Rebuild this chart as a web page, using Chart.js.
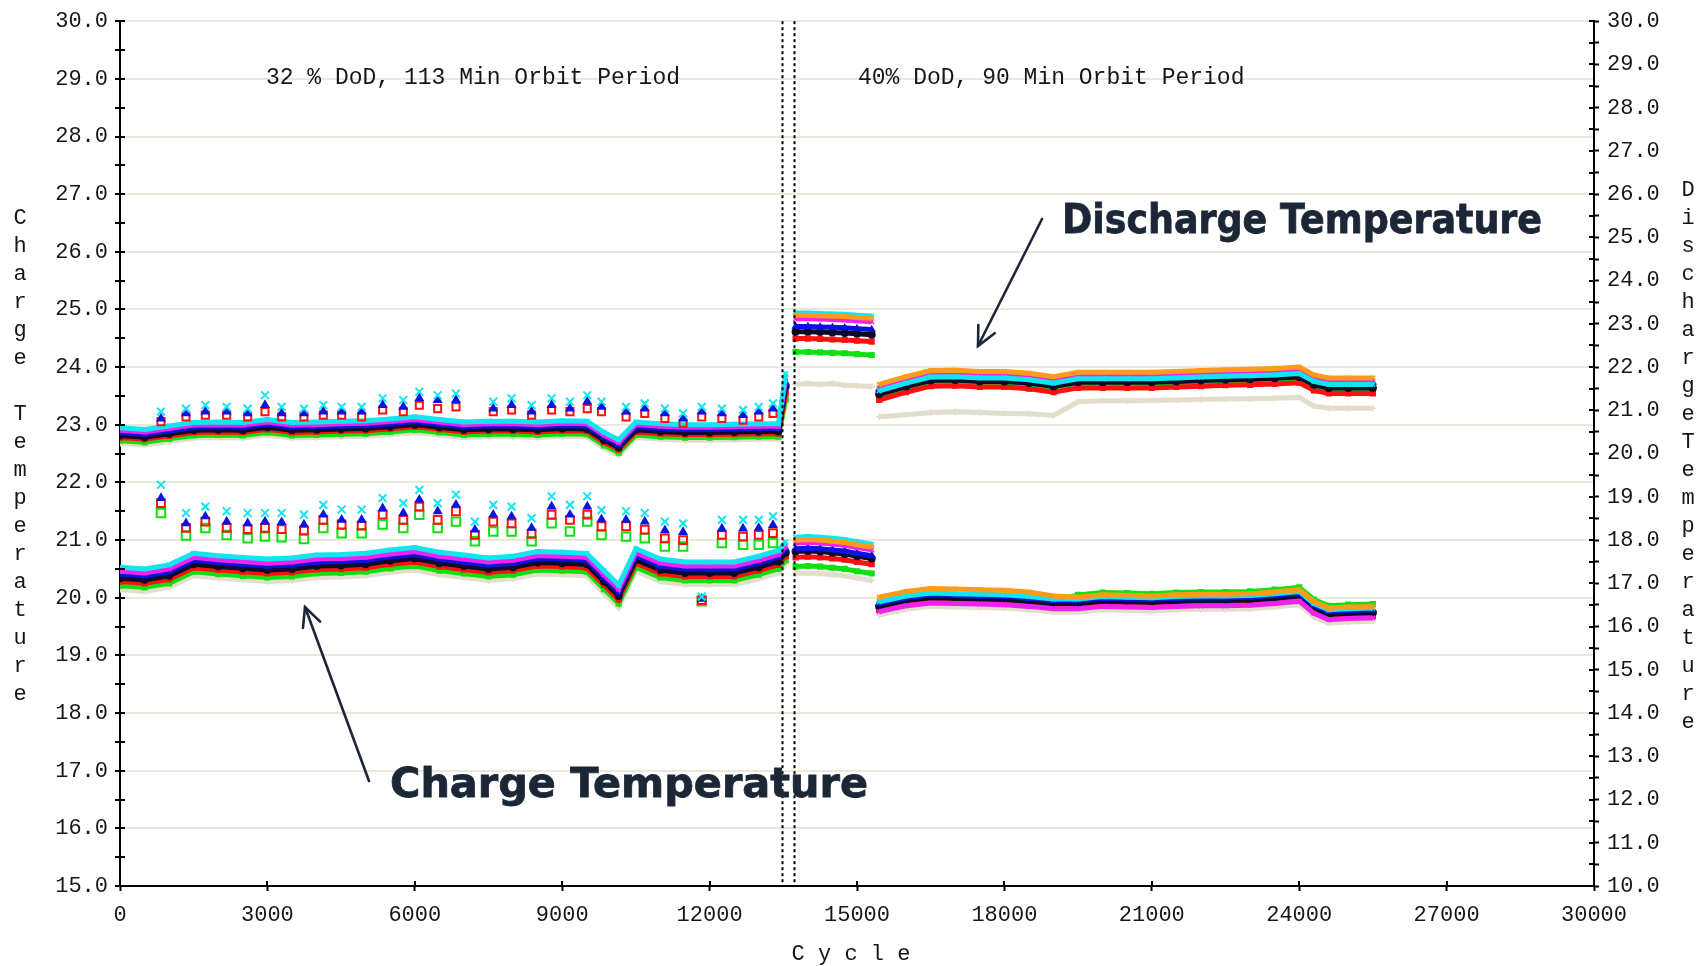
<!DOCTYPE html>
<html>
<head>
<meta charset="utf-8">
<script src="https://cdn.jsdelivr.net/npm/chart.js@4.4.1/dist/chart.umd.min.js"></script>
<style>
  html, body { margin: 0; padding: 0; background: #ffffff; }
  #wrap { width: 1706px; height: 966px; }
</style>
</head>
<body>
<div id="wrap"><canvas id="c" width="1706" height="966"></canvas></div>
<script>
// ---------- DATA ----------
// Cycle positions of the band samples (null values break the line between phases)
const cycles = [0,500,1000,1500,2000,2500,3000,3500,4000,4500,5000,5500,6000,6500,7000,7500,8000,8500,9000,9500,9850,10150,10500,11000,11500,12000,12500,13000,13400,13550,
  13650,
  13750,14000,14250,14500,14750,15000,15300,
  15370,
  15450,16000,16500,17000,17500,18000,18500,19000,19500,20000,20500,21000,21500,22000,22500,23000,23500,24000,24300,24600,25000,25500];

// Charge temperature (left axis, deg C), one array per cell colour
const chargeCyan = [20.53,20.50,20.57,20.77,20.73,20.70,20.67,20.69,20.74,20.75,20.77,20.83,20.87,20.79,20.74,20.69,20.72,20.80,20.79,20.77,20.47,20.22,20.85,20.67,20.62,20.62,20.62,20.72,20.82,20.97,
  null, 21.05,21.06,21.05,21.03,21.01,20.97,20.93, null,
  19.93,20.03,20.08,20.07,20.06,20.05,20.02,19.98,19.98,20.02,20.01,20.00,20.02,20.03,20.03,20.04,20.07,20.11,19.90,19.79,19.81,19.82];
const chargeMagenta = [20.46,20.43,20.50,20.70,20.66,20.63,20.60,20.62,20.67,20.68,20.70,20.76,20.80,20.72,20.67,20.62,20.65,20.73,20.72,20.70,20.40,20.15,20.78,20.60,20.55,20.55,20.55,20.65,20.75,20.90,
  null, 20.95,20.96,20.95,20.93,20.91,20.87,20.83, null,
  19.76,19.86,19.91,19.90,19.89,19.88,19.85,19.81,19.81,19.85,19.84,19.83,19.85,19.86,19.86,19.87,19.90,19.94,19.73,19.62,19.64,19.65];
const chargeBlue = [20.41,20.38,20.45,20.65,20.61,20.58,20.55,20.57,20.62,20.63,20.65,20.71,20.75,20.67,20.62,20.57,20.60,20.68,20.67,20.65,20.35,20.10,20.73,20.55,20.50,20.50,20.50,20.60,20.70,20.85,
  null, 20.85,20.86,20.85,20.83,20.81,20.77,20.73, null,
  19.90,20.00,20.05,20.04,20.03,20.02,19.99,19.95,19.95,19.99,19.98,19.97,19.99,20.00,20.00,20.01,20.04,20.08,19.87,19.76,19.78,19.79];
const chargeBlack = [20.34,20.31,20.38,20.58,20.54,20.51,20.48,20.50,20.55,20.56,20.58,20.64,20.68,20.60,20.55,20.50,20.53,20.61,20.60,20.58,20.28,20.03,20.66,20.48,20.43,20.43,20.43,20.53,20.63,20.78,
  null, 20.80,20.81,20.80,20.78,20.76,20.72,20.68, null,
  19.85,19.95,20.00,19.99,19.98,19.97,19.94,19.90,19.90,19.94,19.93,19.92,19.94,19.95,19.95,19.96,19.99,20.03,19.82,19.71,19.73,19.74];
const chargeRed = [20.28,20.25,20.32,20.52,20.48,20.45,20.42,20.44,20.49,20.50,20.52,20.58,20.62,20.54,20.49,20.44,20.47,20.55,20.54,20.52,20.22,19.97,20.60,20.42,20.37,20.37,20.37,20.47,20.57,20.72,
  null, 20.70,20.71,20.70,20.68,20.66,20.62,20.58, null,
  19.79,19.89,19.94,19.93,19.92,19.91,19.88,19.84,19.84,19.88,19.87,19.86,19.88,19.89,19.89,19.90,19.93,19.97,19.76,19.65,19.67,19.68];
const chargeGreen = [20.21,20.18,20.25,20.45,20.41,20.38,20.35,20.37,20.42,20.43,20.45,20.51,20.55,20.47,20.42,20.37,20.40,20.48,20.47,20.45,20.15,19.90,20.53,20.35,20.30,20.30,20.30,20.40,20.50,20.65,
  null, 20.54,20.55,20.54,20.52,20.50,20.46,20.42, null,
  19.88,19.98,20.03,20.02,20.01,20.00,19.97,19.95,20.05,20.09,20.08,20.07,20.09,20.10,20.10,20.11,20.14,20.18,19.97,19.86,19.88,19.89];
const chargeOrange = [null,null,null,null,null,null,null,null,null,null,null,null,null,null,null,null,null,null,null,null,null,null,null,null,null,null,null,null,null,null,
  null, 21.00,21.01,21.00,20.98,20.96,20.92,20.88, null,
  20.01,20.11,20.16,20.15,20.14,20.13,20.10,20.03,20.01,20.05,20.04,20.03,20.05,20.06,20.06,20.07,20.10,20.14,19.93,19.82,19.84,19.85];
const chargeBeige = [20.14,20.11,20.18,20.38,20.34,20.31,20.28,20.30,20.35,20.36,20.38,20.44,20.48,20.40,20.35,20.30,20.33,20.41,20.40,20.38,20.08,19.83,20.46,20.28,20.23,20.23,20.23,20.33,20.43,20.58,
  null, 20.42,20.43,20.42,20.40,20.38,20.34,20.30, null,
  19.70,19.80,19.85,19.84,19.83,19.82,19.79,19.75,19.75,19.79,19.78,19.77,19.79,19.80,19.80,19.81,19.84,19.88,19.67,19.56,19.58,19.59];

// Discharge temperature (right axis, deg C)
const dischargeCyan = [20.60,20.56,20.64,20.72,20.73,20.72,20.79,20.72,20.73,20.75,20.76,20.80,20.85,20.79,20.73,20.75,20.75,20.73,20.76,20.75,20.49,20.32,20.73,20.69,20.67,20.67,20.68,20.69,20.69,21.85,
  null, 23.25,23.25,23.24,23.23,23.22,23.20,23.18, null,
  21.45,21.63,21.77,21.78,21.75,21.75,21.71,21.63,21.73,21.73,21.73,21.73,21.75,21.77,21.79,21.80,21.82,21.85,21.67,21.60,21.60,21.60];
const dischargeMagenta = [20.54,20.50,20.58,20.66,20.67,20.66,20.73,20.66,20.67,20.69,20.70,20.74,20.79,20.73,20.67,20.69,20.69,20.67,20.70,20.69,20.43,20.26,20.67,20.63,20.61,20.61,20.62,20.63,20.63,21.75,
  null, 23.12,23.12,23.11,23.10,23.09,23.07,23.05, null,
  21.52,21.70,21.84,21.85,21.82,21.82,21.78,21.70,21.80,21.80,21.80,21.80,21.82,21.84,21.86,21.87,21.89,21.92,21.74,21.67,21.67,21.67];
const dischargeBlue = [20.49,20.45,20.53,20.61,20.62,20.61,20.68,20.61,20.62,20.64,20.65,20.69,20.74,20.68,20.62,20.64,20.64,20.62,20.65,20.64,20.38,20.21,20.62,20.58,20.56,20.56,20.57,20.58,20.58,21.65,
  null, 22.94,22.94,22.93,22.92,22.91,22.89,22.87, null,
  21.50,21.68,21.82,21.83,21.80,21.80,21.76,21.68,21.78,21.78,21.78,21.78,21.80,21.82,21.84,21.85,21.87,21.90,21.72,21.65,21.65,21.65];
const dischargeBlack = [20.42,20.38,20.46,20.54,20.55,20.54,20.61,20.54,20.55,20.57,20.58,20.62,20.67,20.61,20.55,20.57,20.57,20.55,20.58,20.57,20.31,20.14,20.55,20.51,20.49,20.49,20.50,20.51,20.51,21.55,
  null, 22.82,22.82,22.81,22.80,22.79,22.77,22.75, null,
  21.37,21.55,21.69,21.70,21.67,21.67,21.63,21.55,21.65,21.65,21.65,21.65,21.67,21.69,21.71,21.72,21.74,21.77,21.59,21.52,21.52,21.52];
const dischargeRed = [20.37,20.33,20.41,20.49,20.50,20.49,20.56,20.49,20.50,20.52,20.53,20.57,20.62,20.56,20.50,20.52,20.52,20.50,20.53,20.52,20.26,20.09,20.50,20.46,20.44,20.44,20.45,20.46,20.46,21.40,
  null, 22.66,22.66,22.65,22.64,22.63,22.61,22.59, null,
  21.24,21.42,21.56,21.57,21.54,21.54,21.50,21.42,21.52,21.52,21.52,21.52,21.54,21.56,21.58,21.59,21.61,21.64,21.46,21.39,21.39,21.39];
const dischargeGreen = [20.30,20.26,20.34,20.42,20.43,20.42,20.49,20.42,20.43,20.45,20.46,20.50,20.55,20.49,20.43,20.45,20.45,20.43,20.46,20.45,20.19,20.02,20.43,20.39,20.37,20.37,20.38,20.39,20.39,21.25,
  null, 22.35,22.35,22.34,22.33,22.32,22.30,22.28, null,
  21.34,21.52,21.66,21.67,21.64,21.64,21.60,21.52,21.62,21.62,21.62,21.62,21.64,21.66,21.68,21.69,21.71,21.74,21.56,21.49,21.49,21.49];
const dischargeOrange = [null,null,null,null,null,null,null,null,null,null,null,null,null,null,null,null,null,null,null,null,null,null,null,null,null,null,null,null,null,null,
  null, 23.20,23.20,23.19,23.18,23.17,23.15,23.13, null,
  21.60,21.78,21.92,21.93,21.90,21.90,21.86,21.78,21.88,21.88,21.88,21.88,21.90,21.92,21.94,21.95,21.97,22.00,21.82,21.75,21.75,21.75];
const dischargeBeige = [20.24,20.20,20.28,20.36,20.37,20.36,20.43,20.36,20.37,20.39,20.40,20.44,20.49,20.43,20.37,20.39,20.39,20.37,20.40,20.39,20.13,19.96,20.37,20.33,20.31,20.31,20.32,20.33,20.33,21.55,
  null, 21.60,21.62,21.60,21.62,21.58,21.57,21.55, null,
  20.85,20.90,20.95,20.97,20.95,20.93,20.92,20.88,21.20,21.22,21.22,21.23,21.24,21.25,21.26,21.27,21.28,21.30,21.10,21.05,21.05,21.05];

// Periodic capacity-check excursions ("spikes")
const spikeCycles = [834,1343,1737,2171,2598,2951,3290,3744,4138,4511,4918,5346,5766,6092,6465,6838,7224,7597,7970,8377,8785,9158,9510,9800,10300,10680,11090,11460,11840,12250,12680,13000,13290];
const chargeSpikeCyan  = [21.96,21.47,21.58,21.50,21.47,21.47,21.47,21.44,21.61,21.53,21.53,21.73,21.64,21.87,21.64,21.79,21.32,21.61,21.58,21.38,21.76,21.61,21.76,21.52,21.50,21.47,21.32,21.29,20.02,21.35,21.35,21.35,21.41];
const chargeSpikeBlue  = [21.73,21.29,21.41,21.32,21.29,21.32,21.31,21.27,21.44,21.35,21.35,21.55,21.47,21.70,21.50,21.61,21.18,21.44,21.41,21.21,21.58,21.44,21.58,21.36,21.35,21.32,21.17,21.14,19.98,21.20,21.20,21.21,21.26];
const chargeSpikeRed   = [21.64,21.21,21.32,21.21,21.19,21.21,21.19,21.17,21.35,21.27,21.25,21.44,21.35,21.58,21.35,21.50,21.09,21.32,21.29,21.11,21.44,21.35,21.44,21.24,21.24,21.18,21.03,21.00,19.96,21.09,21.06,21.09,21.12];
const chargeSpikeGreen = [21.47,21.08,21.21,21.09,21.03,21.06,21.05,21.02,21.21,21.12,21.12,21.27,21.21,21.44,21.21,21.32,20.98,21.15,21.15,20.98,21.29,21.15,21.32,21.09,21.06,21.03,20.89,20.89,19.94,20.95,20.92,20.92,20.95];
const dischargeSpikeCyan = [20.97,21.04,21.12,21.08,21.04,21.35,21.08,21.04,21.12,21.08,21.08,21.28,21.24,21.43,21.35,21.39,null,21.20,21.28,21.12,21.28,21.20,21.35,21.20,21.08,21.16,21.04,20.93,21.08,21.04,21.01,21.08,21.16];
const dischargeSpikeBlue = [20.81,20.93,20.97,20.97,20.93,21.12,20.93,20.93,20.97,20.97,20.97,21.12,21.08,21.28,21.24,21.24,null,21.04,21.12,20.97,21.12,21.04,21.20,21.08,20.97,21.04,20.93,20.81,20.97,20.93,20.89,20.97,21.04];
const dischargeSpikeRed  = [20.74,20.85,20.89,20.89,20.85,20.97,20.85,20.85,20.89,20.89,20.85,21.01,20.97,21.12,21.04,21.08,null,20.97,21.01,20.89,21.01,20.97,21.04,20.97,20.85,20.93,20.81,20.70,20.85,20.81,20.77,20.85,20.93];

// Phase change (dotted lines) and axis ranges
const phaseBoundaries = [13470, 13715];
const cycleRange = [0, 30000, 3000];
const chargeRange = [15, 30, 0.5];
const dischargeRange = [10, 30, 0.5];
const phaseLabels = ['32 % DoD, 113 Min Orbit Period', '40% DoD, 90 Min Orbit Period'];
const leftTitle = 'Charge Temperature';
const rightTitle = 'DischargeTemperature';
const xTitle = 'C y c l e';

// ---------- CHART ----------
const COL = {
  cyan: '#12e4f0', magenta: '#ee22ee', blue: '#0a14e0', black: '#0c0c2a',
  red: '#ff1010', green: '#10e010', orange: '#ff9a1a', beige: '#e3ddcc'
};
const pts = (xs, ys) => xs.map((x, i) => ({ x: x, y: ys[i] }));

function band(label, ys, axis, color, style) {
  return {
    label, data: pts(cycles, ys), yAxisID: axis, showLine: true, spanGaps: false,
    borderColor: color, backgroundColor: color, borderWidth: 5,
    pointStyle: style, pointRadius: 3.2, pointBorderWidth: 1.6, pointBorderColor: color,
    pointBackgroundColor: color
  };
}
function spikes(label, ys, axis, color, style, r, filled) {
  return {
    label, data: pts(spikeCycles, ys), yAxisID: axis, showLine: false,
    borderColor: color, backgroundColor: filled ? color : 'rgba(0,0,0,0)',
    pointStyle: style, pointRadius: r, pointBorderWidth: 2,
    pointBorderColor: color, pointBackgroundColor: filled ? color : 'rgba(0,0,0,0)'
  };
}

const datasets = [
  spikes('Charge spike cyan', chargeSpikeCyan, 'y', COL.cyan, 'crossRot', 5.5, false),
  spikes('Charge spike blue', chargeSpikeBlue, 'y', COL.blue, 'triangle', 3.8, true),
  spikes('Charge spike red', chargeSpikeRed, 'y', COL.red, 'rect', 5.5, false),
  spikes('Charge spike green', chargeSpikeGreen, 'y', COL.green, 'rect', 6, false),
  spikes('Discharge spike cyan', dischargeSpikeCyan, 'y2', COL.cyan, 'crossRot', 5.5, false),
  spikes('Discharge spike blue', dischargeSpikeBlue, 'y2', COL.blue, 'triangle', 3.8, true),
  spikes('Discharge spike red', dischargeSpikeRed, 'y2', COL.red, 'rect', 5, false),

  band('Charge orange', chargeOrange, 'y', COL.orange, 'crossRot'),
  band('Charge cyan', chargeCyan, 'y', COL.cyan, 'crossRot'),
  band('Charge magenta', chargeMagenta, 'y', COL.magenta, 'crossRot'),
  band('Charge blue', chargeBlue, 'y', COL.blue, 'triangle'),
  band('Charge black', chargeBlack, 'y', COL.black, 'circle'),
  band('Charge red', chargeRed, 'y', COL.red, 'rect'),
  band('Charge green', chargeGreen, 'y', COL.green, 'rect'),
  band('Charge beige', chargeBeige, 'y', COL.beige, 'cross'),

  band('Discharge orange', dischargeOrange, 'y2', COL.orange, 'crossRot'),
  band('Discharge cyan', dischargeCyan, 'y2', COL.cyan, 'crossRot'),
  band('Discharge magenta', dischargeMagenta, 'y2', COL.magenta, 'crossRot'),
  band('Discharge blue', dischargeBlue, 'y2', COL.blue, 'triangle'),
  band('Discharge black', dischargeBlack, 'y2', COL.black, 'circle'),
  band('Discharge red', dischargeRed, 'y2', COL.red, 'rect'),
  band('Discharge green', dischargeGreen, 'y2', COL.green, 'rect'),
  band('Discharge beige', dischargeBeige, 'y2', COL.beige, 'cross')
];

const MONO = '"Liberation Mono", "DejaVu Sans Mono", monospace';
const TXT = '#161616';
const NAVY = '#1b2736';

const overlay = {
  id: 'overlay',
  afterDraw(chart) {
    const { ctx, chartArea: a, scales } = chart;
    const x = scales.x, y = scales.y, y2 = scales.y2;
    ctx.save();
    // inward halves of the tick marks (ticks cross the axis lines)
    ctx.strokeStyle = '#000'; ctx.lineWidth = 2; ctx.setLineDash([]);
    y.ticks.forEach(t => { const p = Math.round(y.getPixelForValue(t.value)); ctx.beginPath(); ctx.moveTo(a.left, p); ctx.lineTo(a.left + 5, p); ctx.stroke(); });
    y2.ticks.forEach(t => { const p = Math.round(y2.getPixelForValue(t.value)); ctx.beginPath(); ctx.moveTo(a.right, p); ctx.lineTo(a.right - 5, p); ctx.stroke(); });
    x.ticks.forEach(t => { const p = Math.round(x.getPixelForValue(t.value)); ctx.beginPath(); ctx.moveTo(p, a.bottom); ctx.lineTo(p, a.bottom - 5); ctx.stroke(); });

    // dotted phase boundaries
    ctx.lineWidth = 2; ctx.setLineDash([3, 3]); ctx.strokeStyle = '#000';
    phaseBoundaries.forEach(c => {
      const p = Math.round(x.getPixelForValue(c)) + 0.5;
      ctx.beginPath(); ctx.moveTo(p, a.top); ctx.lineTo(p, a.bottom); ctx.stroke();
    });
    ctx.setLineDash([]);

    // phase labels, centred on the 29.0 gridline
    ctx.fillStyle = TXT; ctx.font = '23px ' + MONO; ctx.textBaseline = 'middle'; ctx.textAlign = 'left';
    const ly = y.getPixelForValue(29) - 1;
    ctx.fillText(phaseLabels[0], x.getPixelForValue(2970), ly);
    ctx.fillText(phaseLabels[1], x.getPixelForValue(15020), ly);

    // stacked axis titles
    ctx.font = '22px ' + MONO; ctx.textAlign = 'center';
    const step = 28;
    leftTitle.split('').forEach((ch, i) => { if (ch !== ' ') ctx.fillText(ch, 20, 218 + i * step); });
    rightTitle.split('').forEach((ch, i) => ctx.fillText(ch, 1688, 190 + i * step));
    ctx.fillText(xTitle, 851, 954);

    // big callouts (stretched to the reference width) + arrows
    ctx.fillStyle = NAVY; ctx.strokeStyle = NAVY;
    ctx.font = 'bold 40px "DejaVu Sans", Verdana, sans-serif';
    ctx.textAlign = 'left'; ctx.textBaseline = 'alphabetic';
    function callout(text, left, base, width) {
      const w = ctx.measureText(text).width;
      ctx.save();
      ctx.translate(left, base);
      ctx.scale(width / w, 1);
      ctx.lineWidth = 0.8;
      ctx.fillText(text, 0, 0);
      ctx.strokeText(text, 0, 0);
      ctx.restore();
    }
    callout('Discharge Temperature', 1062, 233, 480);
    callout('Charge Temperature', 390, 797, 478);

    function arrow(x1, y1, x2, y2) {
      ctx.lineWidth = 2.6; ctx.lineCap = 'round';
      ctx.beginPath(); ctx.moveTo(x1, y1); ctx.lineTo(x2, y2); ctx.stroke();
      const ang = Math.atan2(y2 - y1, x2 - x1), L = 21, sp = 0.45;
      ctx.beginPath();
      ctx.moveTo(x2 - L * Math.cos(ang - sp), y2 - L * Math.sin(ang - sp));
      ctx.lineTo(x2, y2);
      ctx.lineTo(x2 - L * Math.cos(ang + sp), y2 - L * Math.sin(ang + sp));
      ctx.stroke();
    }
    arrow(1042, 219, 978, 346);
    arrow(369, 781, 305, 607);
    ctx.restore();
  }
};

new Chart(document.getElementById('c'), {
  type: 'scatter',
  data: { datasets },
  options: {
    responsive: false, animation: false, devicePixelRatio: 1,
    layout: { padding: { top: 21, left: 0, right: 0, bottom: 0 } },
    plugins: { legend: { display: false }, tooltip: { enabled: false }, title: { display: false } },
    elements: { line: { tension: 0 } },
    scales: {
      x: {
        type: 'linear', position: 'bottom', min: cycleRange[0], max: cycleRange[1],
        ticks: { stepSize: cycleRange[2], autoSkip: false, maxRotation: 0, color: TXT, padding: 11,
                 font: { family: MONO, size: 22 }, callback: v => String(v) },
        grid: { drawOnChartArea: false, drawTicks: true, tickLength: 5, tickColor: '#000', tickWidth: 2 },
        border: { display: true, color: '#000', width: 2 },
        afterFit: s => { s.height = 80; }
      },
      y: {
        type: 'linear', position: 'left', min: chargeRange[0], max: chargeRange[1],
        ticks: { stepSize: chargeRange[2], autoSkip: false, color: TXT, padding: 7,
                 font: { family: MONO, size: 22 },
                 callback: v => Number.isInteger(v) ? v.toFixed(1) : '' },
        grid: { color: c => (c.tick && Number.isInteger(c.tick.value)) ? '#ebe7da' : 'rgba(0,0,0,0)',
                lineWidth: 2, tickLength: 5, tickColor: '#000', tickWidth: 2 },
        border: { display: true, color: '#000', width: 2 },
        afterFit: s => { s.width = 120; }
      },
      y2: {
        type: 'linear', position: 'right', min: dischargeRange[0], max: dischargeRange[1],
        ticks: { stepSize: dischargeRange[2], autoSkip: false, color: TXT, padding: 8,
                 font: { family: MONO, size: 22 },
                 callback: v => Number.isInteger(v) ? v.toFixed(1) : '' },
        grid: { drawOnChartArea: false, tickLength: 5, tickColor: '#000', tickWidth: 2 },
        border: { display: true, color: '#000', width: 2 },
        afterFit: s => { s.width = 112; }
      }
    }
  },
  plugins: [overlay]
});
</script>
</body>
</html>
